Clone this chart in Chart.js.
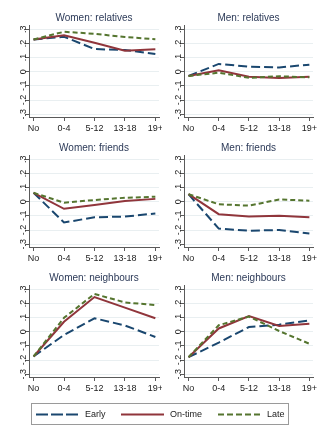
<!DOCTYPE html>
<html>
<head>
<meta charset="utf-8">
<script src="https://cdn.jsdelivr.net/npm/chart.js@4/dist/chart.umd.min.js"></script>
<style>
  html, body { margin: 0; padding: 0; background: #fff; }
  #wrap { position: relative; width: 325px; height: 436px; overflow: hidden; background: #fff; }
  canvas { position: absolute; }
  #legend { position: absolute; left: 31px; top: 403px; width: 256px; height: 20px; border: 1px solid #9a9a9a; box-sizing: content-box;
            font-family: "Liberation Sans", Arial, sans-serif; font-size: 9px; color: #222; }
  #legend svg { position: absolute; top: 0; }
  #legend span { position: absolute; top: 5px; line-height: 10px; }
</style>
</head>
<body>
<div id="wrap">
  <canvas id="c0" width="162" height="136" style="left:0;top:0"></canvas>
  <canvas id="c1" width="170" height="136" style="left:155px;top:0"></canvas>
  <canvas id="c2" width="162" height="136" style="left:0;top:130px"></canvas>
  <canvas id="c3" width="170" height="136" style="left:155px;top:130px"></canvas>
  <canvas id="c4" width="162" height="136" style="left:0;top:260px"></canvas>
  <canvas id="c5" width="170" height="136" style="left:155px;top:260px"></canvas>
  <div id="legend">
    <svg width="256" height="20" style="left:0">
      <line x1="4" y1="10.5" x2="47" y2="10.5" stroke="#1a476f" stroke-width="2" stroke-dasharray="12,3"/>
      <line x1="89" y1="10.5" x2="132" y2="10.5" stroke="#90353b" stroke-width="2"/>
      <line x1="186" y1="10.5" x2="229" y2="10.5" stroke="#55752f" stroke-width="2" stroke-dasharray="6,3"/>
    </svg>
    <span style="left:53px">Early</span>
    <span style="left:138px">On-time</span>
    <span style="left:235px">Late</span>
  </div>
</div>
<script>
const categories = ['No', '0-4', '5-12', '13-18', '19+'];
const seriesNames = ['Early', 'On-time', 'Late'];
const panelTitles = ['Women: relatives', 'Men: relatives', 'Women: friends', 'Men: friends', 'Women: neighbours', 'Men: neighbours'];

const womenRelativesEarly  = [0.228, 0.247, 0.160, 0.153, 0.125];
const womenRelativesOnTime = [0.228, 0.258, 0.205, 0.148, 0.158];
const womenRelativesLate   = [0.228, 0.282, 0.268, 0.245, 0.230];

const menRelativesEarly  = [-0.030, 0.055, 0.035, 0.030, 0.050];
const menRelativesOnTime = [-0.030, 0.010, -0.036, -0.045, -0.036];
const menRelativesLate   = [-0.030, -0.007, -0.043, -0.032, -0.040];

const womenFriendsEarly  = [0.063, -0.147, -0.110, -0.105, -0.083];
const womenFriendsOnTime = [0.063, -0.050, -0.023, 0.005, 0.020];
const womenFriendsLate   = [0.063, -0.007, 0.012, 0.028, 0.035];

const menFriendsEarly  = [0.053, -0.190, -0.205, -0.200, -0.224];
const menFriendsOnTime = [0.053, -0.088, -0.104, -0.100, -0.110];
const menFriendsLate   = [0.053, -0.018, -0.028, 0.016, 0.007];

const womenNeighboursEarly  = [-0.175, -0.023, 0.095, 0.044, -0.037];
const womenNeighboursOnTime = [-0.175, 0.070, 0.245, 0.170, 0.095];
const womenNeighboursLate   = [-0.175, 0.098, 0.267, 0.207, 0.188];

const menNeighboursEarly  = [-0.180, -0.077, 0.033, 0.050, 0.080];
const menNeighboursOnTime = [-0.180, 0.023, 0.110, 0.040, 0.056];
const menNeighboursLate   = [-0.180, 0.046, 0.107, 0.005, -0.085];

const panelSeries = [
  [womenRelativesEarly, womenRelativesOnTime, womenRelativesLate],
  [menRelativesEarly, menRelativesOnTime, menRelativesLate],
  [womenFriendsEarly, womenFriendsOnTime, womenFriendsLate],
  [menFriendsEarly, menFriendsOnTime, menFriendsLate],
  [womenNeighboursEarly, womenNeighboursOnTime, womenNeighboursLate],
  [menNeighboursEarly, menNeighboursOnTime, menNeighboursLate]
];

const colors = ['#1a476f', '#90353b', '#55752f'];
const dashes = [[9, 4], [], [5, 3]];
const orders = [2, 1, 0];
const FONT = '"Liberation Sans", Arial, sans-serif';
const axisColor = '#5a5a5a';

function fmtY(v) {
  const r = Math.round(v * 10) / 10;
  if (r === 0) return '0';
  const s = r.toFixed(1);
  return s.replace('0.', '.');
}

panelSeries.forEach((series, p) => {
  const isRight = p % 2 === 1;
  const ctx = document.getElementById('c' + p);
  new Chart(ctx, {
    type: 'line',
    data: {
      datasets: series.map((vals, s) => ({
        label: seriesNames[s],
        data: vals.map((v, i) => ({ x: i, y: v })),
        borderColor: colors[s],
        borderWidth: 2,
        borderDash: dashes[s],
        pointRadius: 0,
        tension: 0,
        fill: false,
        order: orders[s]
      }))
    },
    options: {
      responsive: false,
      animation: false,
      devicePixelRatio: 1,
      layout: { padding: { left: 0, right: isRight ? 12 : 3, top: 0, bottom: 0 } },
      plugins: {
        legend: { display: false },
        tooltip: { enabled: false },
        title: {
          display: true,
          text: panelTitles[p],
          fullSize: false,
          color: '#2c3a58',
          font: { family: FONT, size: 10, weight: 'normal', lineHeight: 1.2 },
          padding: { top: 12, bottom: 1 }
        }
      },
      scales: {
        x: {
          type: 'linear',
          min: -0.15,
          max: 4.12,
          afterFit: (sc) => { sc.height = 19; sc.paddingLeft = 0; sc.paddingRight = 0; },
          border: { display: true, color: axisColor, width: 1 },
          grid: { drawOnChartArea: false, drawTicks: true, tickLength: 4, tickColor: axisColor },
          ticks: {
            stepSize: 1,
            includeBounds: false,
            autoSkip: false,
            maxRotation: 0,
            minRotation: 0,
            padding: 2,
            color: '#222',
            font: { family: FONT, size: 9 },
            callback: (v) => categories[v] !== undefined ? categories[v] : ''
          }
        },
        y: {
          type: 'linear',
          min: -0.32,
          max: 0.33,
          afterFit: (sc) => { sc.width = 29; sc.paddingTop = 0; sc.paddingBottom = 0; },
          border: { display: true, color: axisColor, width: 1 },
          grid: { color: '#e9eff1', lineWidth: 1, drawTicks: true, tickLength: 4, tickColor: axisColor },
          ticks: {
            stepSize: 0.1,
            includeBounds: false,
            minRotation: 90,
            maxRotation: 90,
            crossAlign: 'center',
            padding: -4,
            color: '#222',
            font: { family: FONT, size: 9 },
            callback: (v) => fmtY(v)
          }
        }
      }
    }
  });
});
</script>
</body>
</html>
